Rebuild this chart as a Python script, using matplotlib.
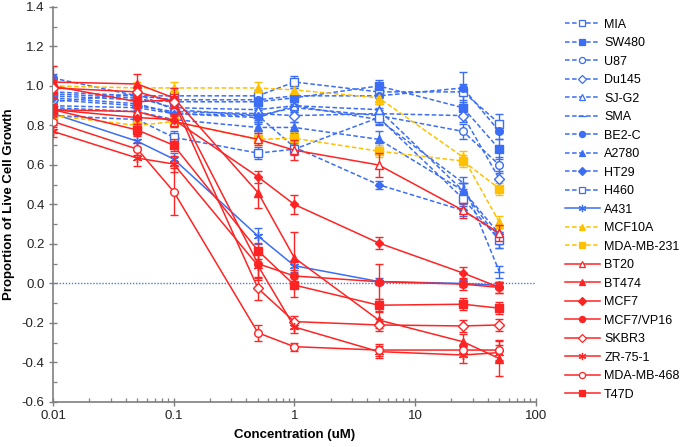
import matplotlib
matplotlib.use("Agg")
import matplotlib.pyplot as plt
from matplotlib.lines import Line2D
from matplotlib.ticker import FixedLocator, LogLocator, NullFormatter, MultipleLocator, FormatStrFormatter

plt.rcParams['font.family'] = ['Liberation Sans', 'DejaVu Sans']
plt.rcParams['axes.unicode_minus'] = False

conc = [0.01, 0.05, 0.1, 0.5, 1, 5, 25, 50]

names = ["MIA", "SW480", "U87", "Du145", "SJ-G2", "SMA", "BE2-C", "A2780", "HT29", "H460",
         "A431", "MCF10A", "MDA-MB-231",
         "BT20", "BT474", "MCF7", "MCF7/VP16", "SKBR3", "ZR-75-1", "MDA-MB-468", "T47D"]

values = {
    "MIA":        [0.97, 0.95, 0.95, 0.95, 1.02, 0.97, 0.97, 0.81],
    "SW480":      [0.95, 0.93, 0.92, 0.92, 0.94, 1.00, 0.89, 0.68],
    "U87":        [0.92, 0.96, 0.88, 0.85, 0.89, 0.85, 0.77, 0.60],
    "Du145":      [0.93, 0.90, 0.87, 0.86, 0.85, 0.86, 0.85, 0.53],
    "SJ-G2":      [0.96, 0.94, 0.89, 0.88, 0.90, 0.88, 0.47, 0.25],
    "SMA":        [0.90, 0.89, 0.86, 0.84, 0.90, 0.83, 0.51, 0.06],
    "BE2-C":      [1.04, 0.95, 0.93, 0.93, 0.95, 0.95, 0.99, 0.77],
    "A2780":      [0.89, 0.87, 0.83, 0.79, 0.79, 0.73, 0.47, 0.22],
    "HT29":       [0.94, 0.91, 0.86, 0.85, 0.69, 0.50, 0.37, 0.25],
    "H460":       [0.85, 0.83, 0.74, 0.66, 0.68, 0.84, 0.43, 0.22],
    "A431":       [0.86, 0.72, 0.63, 0.24, 0.09, 0.01, 0.00, -0.01],
    "MCF10A":     [1.00, 0.99, 0.99, 0.99, 0.98, 0.94, 0.64, 0.31],
    "MDA-MB-231": [0.85, 0.80, 0.82, 0.73, 0.735, 0.67, 0.62, 0.48],
    "BT20":       [0.88, 0.87, 0.82, 0.73, 0.675, 0.60, 0.37, 0.255],
    "BT474":      [1.02, 1.01, 0.94, 0.46, 0.13, -0.185, -0.295, -0.38],
    "MCF7":       [0.88, 0.84, 0.83, 0.54, 0.40, 0.205, 0.053, -0.02],
    "MCF7/VP16":  [1.00, 0.92, 0.93, 0.10, 0.038, 0.009, -0.003, -0.02],
    "SKBR3":      [0.99, 0.97, 0.92, -0.025, -0.193, -0.21, -0.215, -0.21],
    "ZR-75-1":    [0.77, 0.635, 0.605, 0.09, -0.22, -0.345, -0.362, -0.35],
    "MDA-MB-468": [0.82, 0.68, 0.465, -0.25, -0.32, -0.337, -0.337, -0.337],
    "T47D":       [0.88, 0.777, 0.70, 0.166, -0.008, -0.11, -0.105, -0.125],
}

errors = {
    "MIA":        [0.03, 0.03, 0.04, 0.03, 0.03, 0.03, 0.04, 0.05],
    "SW480":      [0.02, 0.03, 0.03, 0.03, 0.02, 0.03, 0.03, 0.05],
    "U87":        [0.03, 0.03, 0.03, 0.03, 0.03, 0.03, 0.04, 0.04],
    "Du145":      [0.03, 0.03, 0.03, 0.03, 0.03, 0.03, 0.03, 0.04],
    "SJ-G2":      [0.03, 0.03, 0.03, 0.03, 0.03, 0.03, 0.04, 0.04],
    "SMA":        [0.03, 0.03, 0.03, 0.03, 0.03, 0.03, 0.03, 0.03],
    "BE2-C":      [0.02, 0.03, 0.04, 0.03, 0.04, 0.03, 0.08, 0.04],
    "A2780":      [0.03, 0.03, 0.03, 0.03, 0.03, 0.04, 0.04, 0.04],
    "HT29":       [0.03, 0.03, 0.03, 0.03, 0.03, 0.02, 0.03, 0.03],
    "H460":       [0.03, 0.03, 0.03, 0.03, 0.03, 0.03, 0.04, 0.04],
    "A431":       [0.03, 0.03, 0.03, 0.04, 0.03, 0.02, 0.02, 0.02],
    "MCF10A":     [0.03, 0.03, 0.03, 0.03, 0.03, 0.03, 0.03, 0.03],
    "MDA-MB-231": [0.03, 0.03, 0.03, 0.03, 0.03, 0.03, 0.03, 0.03],
    "BT20":       [0.03, 0.03, 0.03, 0.03, 0.05, 0.06, 0.04, 0.04],
    "BT474":      [0.08, 0.05, 0.05, 0.08, 0.13, 0.04, 0.04, 0.09],
    "MCF7":       [0.03, 0.03, 0.03, 0.03, 0.05, 0.03, 0.03, 0.03],
    "MCF7/VP16":  [0.03, 0.03, 0.03, 0.08, 0.03, 0.09, 0.03, 0.03],
    "SKBR3":      [0.03, 0.03, 0.03, 0.06, 0.03, 0.03, 0.03, 0.03],
    "ZR-75-1":    [0.03, 0.04, 0.04, 0.06, 0.03, 0.03, 0.04, 0.04],
    "MDA-MB-468": [0.03, 0.03, 0.12, 0.04, 0.02, 0.03, 0.03, 0.05],
    "T47D":       [0.03, 0.03, 0.03, 0.04, 0.06, 0.03, 0.03, 0.03],
}

BLUE = '#3B6EF5'
RED = '#FF2424'
YEL = '#FFC000'
DASH = (0, (3, 1.6))
AST = (6, 2, 0)

styles = {
    "MIA":        (BLUE, DASH, 's', 'none'),
    "SW480":      (BLUE, DASH, 's', 'full'),
    "U87":        (BLUE, DASH, 'o', 'none'),
    "Du145":      (BLUE, DASH, 'D', 'none'),
    "SJ-G2":      (BLUE, DASH, '^', 'none'),
    "SMA":        (BLUE, DASH, '_', 'full'),
    "BE2-C":      (BLUE, DASH, 'o', 'full'),
    "A2780":      (BLUE, DASH, '^', 'full'),
    "HT29":       (BLUE, DASH, 'D', 'full'),
    "H460":       (BLUE, DASH, 's', 'none'),
    "A431":       (BLUE, '-', AST, 'full'),
    "MCF10A":     (YEL, DASH, '^', 'full'),
    "MDA-MB-231": (YEL, DASH, 's', 'full'),
    "BT20":       (RED, '-', '^', 'none'),
    "BT474":      (RED, '-', '^', 'full'),
    "MCF7":       (RED, '-', 'D', 'full'),
    "MCF7/VP16":  (RED, '-', 'o', 'full'),
    "SKBR3":      (RED, '-', 'D', 'none'),
    "ZR-75-1":    (RED, '-', AST, 'full'),
    "MDA-MB-468": (RED, '-', 'o', 'none'),
    "T47D":       (RED, '-', 's', 'full'),
}

fig = plt.figure(figsize=(6.85, 4.47), dpi=100)
ax = fig.add_axes([0.0774, 0.1007, 0.7046, 0.8837])

ax.axhline(0, color='#4A7FD4', linestyle=(0, (1, 1.2)), linewidth=1.0, zorder=1)

handles = []
for i, n in enumerate(names):
    col, ls, mk, fill = styles[n]
    ms = 5.5
    if mk == 'D':
        ms = 4.5 if fill == 'full' else 5.5
    if mk == AST or mk == '_':
        ms = 6.5
    mfc = col if fill == 'full' else 'white'
    z = 3 if col == BLUE or col == YEL else 4
    ax.errorbar(conc, values[n], yerr=errors[n], color=col, linestyle=ls, linewidth=1.1,
                marker=mk, markersize=ms, markerfacecolor=mfc, markeredgecolor=col,
                markeredgewidth=1.0, capsize=3, elinewidth=1.0, capthick=1.0,
                ecolor=col, zorder=z)
    handles.append(Line2D([], [], color=col, linestyle=ls, linewidth=1.1, marker=mk,
                          markersize=ms * 0.8, markerfacecolor=mfc, markeredgecolor=col,
                          markeredgewidth=0.9, label=n))

ax.set_xscale('log')
ax.set_xlim(0.01, 100)
ax.set_ylim(-0.6, 1.4)
ax.yaxis.set_major_locator(MultipleLocator(0.2))
ax.yaxis.set_minor_locator(MultipleLocator(0.1))
ax.yaxis.set_major_formatter(FormatStrFormatter('%.1f'))
ax.xaxis.set_major_locator(FixedLocator([0.01, 0.1, 1, 10, 100]))
ax.set_xticklabels(['0.01', '0.1', '1', '10', '100'])
ax.xaxis.set_minor_locator(LogLocator(base=10, subs=range(2, 10)))
ax.xaxis.set_minor_formatter(NullFormatter())

for s in ['top', 'right']:
    ax.spines[s].set_visible(False)
for s in ['left', 'bottom']:
    ax.spines[s].set_color('#7F7F7F')
    ax.spines[s].set_linewidth(1.2)
ax.tick_params(which='major', direction='inout', length=6, width=1.0, color='#7F7F7F',
               labelsize=9.5, labelcolor='#222222', pad=3)
ax.tick_params(which='minor', direction='in', length=3, width=0.9, color='#7F7F7F')

ax.set_xlabel('Concentration (uM)', fontsize=9.5, fontweight='bold', labelpad=5)
ax.set_ylabel('Proportion of Live Cell Growth', fontsize=9.5, fontweight='bold', labelpad=5)

leg = ax.legend(handles=handles, loc='upper left', bbox_to_anchor=(1.05, 0.983), frameon=False,
                fontsize=9, handlelength=2.8, handletextpad=0.35, labelspacing=0.52,
                borderaxespad=0)

fig.savefig('out.png', dpi=100)
